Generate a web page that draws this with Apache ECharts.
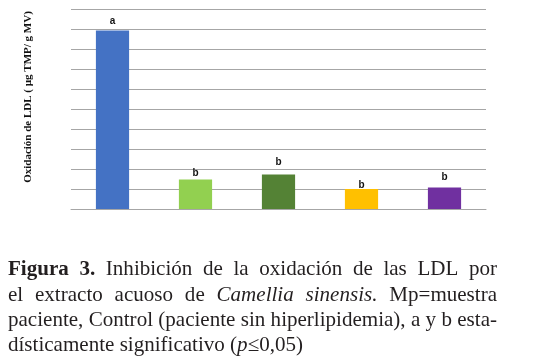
<!DOCTYPE html>
<html><head><meta charset="utf-8">
<script src="https://cdn.jsdelivr.net/npm/echarts@6/dist/echarts.min.js"></script>
<style>html,body{margin:0;padding:0;background:#fff}#c{width:554px;height:362px}</style>
</head><body><div id="c"></div>
<script>
// ---- data ----
const categories = ['Mp', 'Extracto 1', 'Extracto 2', 'Extracto 3', 'Control'];
const values = [8.92, 1.48, 1.72, 1.00, 1.08];
const significance = ['a', 'b', 'b', 'b', 'b'];
const yMin = 0, yMax = 10, yStep = 1;
const yAxisTitle = 'Oxidación de LDL ( µg TMP/ g MV)';

// ---- style ----
const barColors = ['#4472c4', '#92d050', '#548235', '#ffc000', '#7030a0'];
const labelDistances = [4, 1, 7, -1, 5];

const captionLines = [
  { justify: true, words: [[['Figura', 'b']], [['3.', 'b']], [['Inhibición']], [['de']], [['la']], [['oxidación']], [['de']], [['las']], [['LDL']], [['por']]] },
  { justify: true, words: [[['el']], [['extracto']], [['acuoso']], [['de']], [['Camellia', 'i']], [['sinensis.', 'i']], [['Mp=muestra']]] },
  { justify: true, words: [[['paciente,']], [['Control']], [['(paciente']], [['sin']], [['hiperlipidemia),']], [['a']], [['y']], [['b']], [['esta-']]] },
  { justify: false, words: [[['dísticamente']], [['significativo']], [['('], ['p', 'i'], ['≤0,05)']]] }
];

const FONT = 'Liberation Serif';
const capLeft = 8, capRight = 497;
const baselines = [275, 301, 326.7, 351.7];
const capColor = '#231f20';

const mctx = document.createElement('canvas').getContext('2d');
let FS = 20;
function fontStr(st) {
  return (st === 'i' ? 'italic ' : 'normal ') + (st === 'b' ? 'bold ' : 'normal ') + FS + 'px "' + FONT + '"';
}
function runWidth(r) { mctx.font = fontStr(r[1]); return mctx.measureText(r[0]).width; }
function wordWidth(w) { return w.reduce((s, r) => s + runWidth(r), 0); }
function naturalWidth(line) {
  mctx.font = fontStr(); const sp = mctx.measureText(' ').width;
  return line.words.map(wordWidth).reduce((a, b) => a + b, 0) + sp * (line.words.length - 1);
}
// fit the tightest line (line 3) to the column width
FS = FS * (capRight - capLeft) / naturalWidth(captionLines[2]);

const graphics = [];
captionLines.forEach((line, li) => {
  const widths = line.words.map(wordWidth);
  const total = widths.reduce((a, b) => a + b, 0);
  mctx.font = fontStr(); const spaceW = mctx.measureText(' ').width;
  const gap = line.justify ? (capRight - capLeft - total) / (line.words.length - 1) : spaceW;
  let x = capLeft;
  line.words.forEach((w, wi) => {
    let rx = x;
    w.forEach(r => {
      graphics.push({
        type: 'text', x: rx, y: baselines[li] + FS * 0.22,
        style: {
          text: r[0], fill: capColor, fontFamily: FONT, fontSize: FS,
          fontWeight: r[1] === 'b' ? 'bold' : 'normal',
          fontStyle: r[1] === 'i' ? 'italic' : 'normal',
          align: 'left', verticalAlign: 'bottom'
        }
      });
      rx += runWidth(r);
    });
    x += widths[wi] + gap;
  });
});

graphics.push({
  type: 'text', x: 28, y: 97, rotation: Math.PI / 2,
  style: {
    text: yAxisTitle, fill: '#111', fontFamily: FONT, fontSize: 11, fontWeight: 'bold',
    align: 'center', verticalAlign: 'middle'
  }
});

const chart = echarts.init(document.getElementById('c'), null, { renderer: 'canvas' });
chart.setOption({
  animation: false,
  backgroundColor: '#fff',
  grid: { left: 71, right: 68, top: 9, height: 200 },
  xAxis: {
    type: 'category', data: categories,
    axisLine: { show: true, lineStyle: { color: '#a6a6a6', width: 1 } },
    axisTick: { show: false }, axisLabel: { show: false }
  },
  yAxis: {
    type: 'value', min: yMin, max: yMax, interval: yStep,
    axisLine: { show: false }, axisTick: { show: false }, axisLabel: { show: false },
    splitLine: { show: true, lineStyle: { color: '#a6a6a6', width: 1 } }
  },
  series: [{
    type: 'bar', barWidth: '40%',
    data: values.map((v, i) => ({
      value: v,
      itemStyle: { color: barColors[i] },
      label: { distance: labelDistances[i] }
    })),
    label: {
      show: true, position: 'top', color: '#111',
      fontFamily: 'Liberation Sans', fontWeight: 'bold', fontSize: 10,
      formatter: p => significance[p.dataIndex]
    }
  }],
  graphic: graphics
});
</script>
</body></html>
